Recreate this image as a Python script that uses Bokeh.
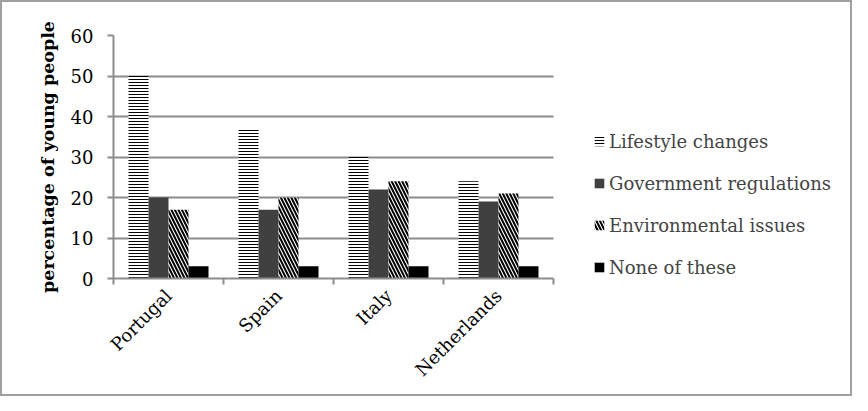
import math
from bokeh.plotting import figure
from bokeh.models import FixedTicker, Legend, LegendItem, Range1d
from bokeh.embed import file_html
from bokeh.resources import INLINE

countries = ["Portugal", "Spain", "Italy", "Netherlands"]
series = ["Lifestyle changes", "Government regulations", "Environmental issues", "None of these"]
lifestyle = [50, 37, 30, 24]
government = [20, 17, 22, 19]
environment = [17, 20, 24, 21]
none_of_these = [3, 3, 3, 3]
y_ticks = [0, 10, 20, 30, 40, 50, 60]

FONT = "DejaVu Serif"
GRID = "#8c8c8c"

W, H = 852, 396
LEFT, RIGHT, TOP, BOTTOM = 111, 10, 33, 120
PX_PER_GROUP = 110
frame_w = W - LEFT - RIGHT
n = len(countries)

p = figure(width=W, height=H, output_backend="svg", toolbar_location=None,
           x_range=Range1d(0, frame_w / PX_PER_GROUP), y_range=Range1d(0, 60),
           min_border_left=LEFT, min_border_right=RIGHT, min_border_top=TOP, min_border_bottom=BOTTOM)
p.styles = {"border": "2px solid #a0a0a0"}
p.outline_line_color = None
p.xgrid.grid_line_color = None
p.ygrid.grid_line_color = GRID
p.ygrid.grid_line_width = 2
p.ygrid.cross_bounds = (0, n)

bar_w = 0.1818
offsets = [-1.5, -0.5, 0.5, 1.5]
data_sets = [lifestyle, government, environment, none_of_these]
styles = [
    dict(fill_color="white", hatch_pattern="horizontal_line", hatch_color="black", hatch_scale=3, hatch_weight=1),
    dict(fill_color="#404040"),
    dict(fill_color="white", hatch_pattern="left_diagonal_line", hatch_color="black", hatch_scale=7, hatch_weight=2),
    dict(fill_color="black"),
]
renderers = []
for vals, off, st in zip(data_sets, offsets, styles):
    xs = [i + 0.5 + off * bar_w for i in range(n)]
    r = p.vbar(x=xs, top=vals, width=bar_w, line_color=None, **st)
    renderers.append(r)

# x axis: labels at group centres, ticks at group boundaries
p.xaxis.bounds = (0, n)
p.xaxis.ticker = FixedTicker(ticks=[i + 0.5 for i in range(n)],
                             minor_ticks=list(range(n + 1)))
p.xaxis.major_label_overrides = {i + 0.5: c for i, c in enumerate(countries)}
p.xaxis.major_tick_line_color = None
p.xaxis.minor_tick_line_color = GRID
p.xaxis.minor_tick_line_width = 2
p.xaxis.minor_tick_out = 6
p.xaxis.minor_tick_in = 0
p.xaxis.axis_line_color = GRID
p.xaxis.axis_line_width = 2
p.xaxis.major_label_orientation = math.pi / 4
p.xaxis.major_label_text_font = FONT
p.xaxis.major_label_text_font_size = "18px"
p.xaxis.major_label_text_color = "black"
p.xaxis.major_label_standoff = 8

p.yaxis.ticker = FixedTicker(ticks=y_ticks)
p.yaxis.minor_tick_line_color = None
p.yaxis.major_tick_line_color = GRID
p.yaxis.major_tick_line_width = 2
p.yaxis.major_tick_out = 6
p.yaxis.major_tick_in = 0
p.yaxis.axis_line_color = GRID
p.yaxis.axis_line_width = 2
p.yaxis.major_label_text_font = FONT
p.yaxis.major_label_text_font_size = "18px"
p.yaxis.major_label_text_color = "black"
p.yaxis.major_label_standoff = 14
p.yaxis.axis_label = "percentage of young people"
p.yaxis.axis_label_text_font = FONT
p.yaxis.axis_label_text_font_style = "bold"
p.yaxis.axis_label_text_font_size = "17.5px"
p.yaxis.axis_label_text_color = "black"
p.yaxis.axis_label_standoff = 10

legend = Legend(items=[LegendItem(label=s, renderers=[r]) for s, r in zip(series, renderers)],
                location=(480, 0), glyph_width=12, glyph_height=12, label_standoff=4,
                spacing=20, padding=0, margin=0, border_line_color=None,
                background_fill_alpha=0, label_text_font=FONT, label_text_font_size="18px",
                label_height=22)
p.add_layout(legend, "center")

open("out.html", "w").write(file_html(p, INLINE))
